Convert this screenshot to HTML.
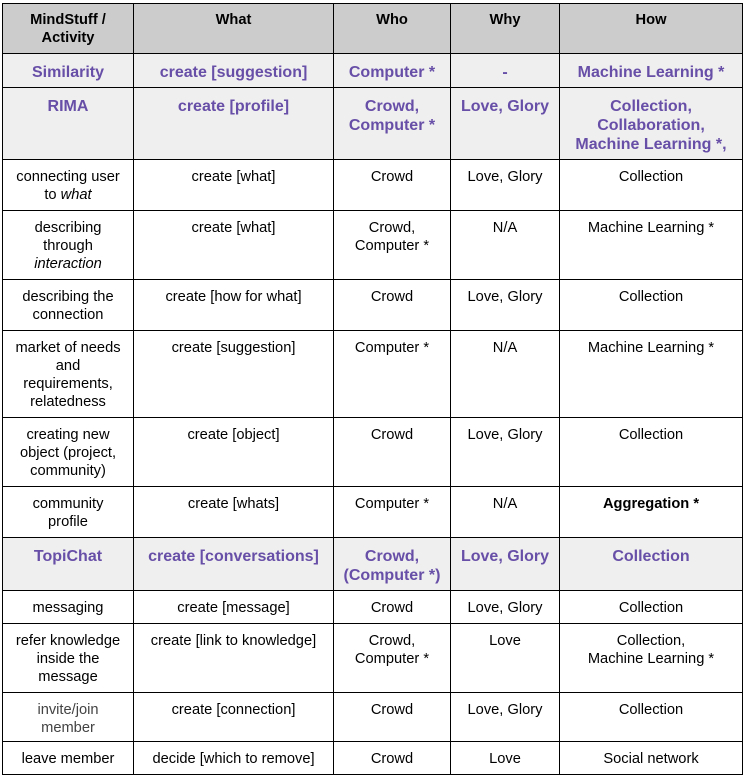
<!DOCTYPE html>
<html>
<head>
<meta charset="utf-8">
<style>
html,body{margin:0;padding:0;background:#fff;}
body{width:748px;height:779px;position:relative;overflow:hidden;font-family:"Liberation Sans",Arial,Helvetica,sans-serif;}
.bg{position:absolute;}
.h{position:absolute;height:1px;background:#000;left:2px;width:741px;}
.v{position:absolute;width:1px;background:#000;top:3px;height:772px;}
.c{position:absolute;text-align:center;white-space:nowrap;font-size:14.67px;line-height:18px;color:#000;}
.hd{font-weight:bold;}
.p{font-weight:bold;font-size:16px;line-height:19px;color:#674ea7;}
.g{color:#434343;}
</style>
</head>
<body>
<!-- backgrounds -->
<div class="bg" style="left:2px;top:3px;width:741px;height:50px;background:#cccccc;"></div>
<div class="bg" style="left:2px;top:53px;width:741px;height:106px;background:#efefef;"></div>
<div class="bg" style="left:2px;top:537px;width:741px;height:53px;background:#efefef;"></div>

<!-- horizontal lines -->
<div class="h" style="top:3px"></div>
<div class="h" style="top:53px"></div>
<div class="h" style="top:87px"></div>
<div class="h" style="top:159px"></div>
<div class="h" style="top:210px"></div>
<div class="h" style="top:279px"></div>
<div class="h" style="top:330px"></div>
<div class="h" style="top:417px"></div>
<div class="h" style="top:486px"></div>
<div class="h" style="top:537px"></div>
<div class="h" style="top:590px"></div>
<div class="h" style="top:623px"></div>
<div class="h" style="top:692px"></div>
<div class="h" style="top:741px"></div>
<div class="h" style="top:774px"></div>

<!-- vertical lines -->
<div class="v" style="left:2px"></div>
<div class="v" style="left:133px"></div>
<div class="v" style="left:333px"></div>
<div class="v" style="left:450px"></div>
<div class="v" style="left:559px"></div>
<div class="v" style="left:742px"></div>

<!-- Header row: top 3 -->
<div class="c hd" style="left:3px;width:130px;top:11px">MindStuff /<br>Activity</div>
<div class="c hd" style="left:134px;width:199px;top:11px">What</div>
<div class="c hd" style="left:334px;width:116px;top:11px">Who</div>
<div class="c hd" style="left:451px;width:108px;top:11px">Why</div>
<div class="c hd" style="left:560px;width:182px;top:11px">How</div>

<!-- Similarity: top 53 -->
<div class="c p" style="left:3px;width:130px;top:63px">Similarity</div>
<div class="c p" style="left:134px;width:199px;top:63px">create [suggestion]</div>
<div class="c p" style="left:334px;width:116px;top:63px">Computer *</div>
<div class="c p" style="left:451px;width:108px;top:63px">-</div>
<div class="c p" style="left:560px;width:182px;top:63px">Machine Learning *</div>

<!-- RIMA: top 87 -->
<div class="c p" style="left:3px;width:130px;top:97px">RIMA</div>
<div class="c p" style="left:134px;width:199px;top:97px">create [profile]</div>
<div class="c p" style="left:334px;width:116px;top:97px">Crowd,<br>Computer *</div>
<div class="c p" style="left:451px;width:108px;top:97px">Love, Glory</div>
<div class="c p" style="left:560px;width:182px;top:97px">Collection,<br>Collaboration,<br>Machine Learning *,</div>

<!-- row top 159 -->
<div class="c" style="left:3px;width:130px;top:168px">connecting user<br>to <i>what</i></div>
<div class="c" style="left:134px;width:199px;top:168px">create [what]</div>
<div class="c" style="left:334px;width:116px;top:168px">Crowd</div>
<div class="c" style="left:451px;width:108px;top:168px">Love, Glory</div>
<div class="c" style="left:560px;width:182px;top:168px">Collection</div>

<!-- row top 210 -->
<div class="c" style="left:3px;width:130px;top:219px">describing<br>through<br><i>interaction</i></div>
<div class="c" style="left:134px;width:199px;top:219px">create [what]</div>
<div class="c" style="left:334px;width:116px;top:219px">Crowd,<br>Computer *</div>
<div class="c" style="left:451px;width:108px;top:219px">N/A</div>
<div class="c" style="left:560px;width:182px;top:219px">Machine Learning *</div>

<!-- row top 279 -->
<div class="c" style="left:3px;width:130px;top:288px">describing the<br>connection</div>
<div class="c" style="left:134px;width:199px;top:288px">create [how for what]</div>
<div class="c" style="left:334px;width:116px;top:288px">Crowd</div>
<div class="c" style="left:451px;width:108px;top:288px">Love, Glory</div>
<div class="c" style="left:560px;width:182px;top:288px">Collection</div>

<!-- row top 330 -->
<div class="c" style="left:3px;width:130px;top:339px">market of needs<br>and<br>requirements,<br>relatedness</div>
<div class="c" style="left:134px;width:199px;top:339px">create [suggestion]</div>
<div class="c" style="left:334px;width:116px;top:339px">Computer *</div>
<div class="c" style="left:451px;width:108px;top:339px">N/A</div>
<div class="c" style="left:560px;width:182px;top:339px">Machine Learning *</div>

<!-- row top 417 -->
<div class="c" style="left:3px;width:130px;top:426px">creating new<br>object (project,<br>community)</div>
<div class="c" style="left:134px;width:199px;top:426px">create [object]</div>
<div class="c" style="left:334px;width:116px;top:426px">Crowd</div>
<div class="c" style="left:451px;width:108px;top:426px">Love, Glory</div>
<div class="c" style="left:560px;width:182px;top:426px">Collection</div>

<!-- row top 486 -->
<div class="c" style="left:3px;width:130px;top:495px">community<br>profile</div>
<div class="c" style="left:134px;width:199px;top:495px">create [whats]</div>
<div class="c" style="left:334px;width:116px;top:495px">Computer *</div>
<div class="c" style="left:451px;width:108px;top:495px">N/A</div>
<div class="c" style="left:560px;width:182px;top:495px"><b>Aggregation *</b></div>

<!-- TopiChat top 537 -->
<div class="c p" style="left:3px;width:130px;top:547px">TopiChat</div>
<div class="c p" style="left:134px;width:199px;top:547px">create [conversations]</div>
<div class="c p" style="left:334px;width:116px;top:547px">Crowd,<br>(Computer *)</div>
<div class="c p" style="left:451px;width:108px;top:547px">Love, Glory</div>
<div class="c p" style="left:560px;width:182px;top:547px">Collection</div>

<!-- row top 590 -->
<div class="c" style="left:3px;width:130px;top:599px">messaging</div>
<div class="c" style="left:134px;width:199px;top:599px">create [message]</div>
<div class="c" style="left:334px;width:116px;top:599px">Crowd</div>
<div class="c" style="left:451px;width:108px;top:599px">Love, Glory</div>
<div class="c" style="left:560px;width:182px;top:599px">Collection</div>

<!-- row top 623 -->
<div class="c" style="left:3px;width:130px;top:632px">refer knowledge<br>inside the<br>message</div>
<div class="c" style="left:134px;width:199px;top:632px">create [link to knowledge]</div>
<div class="c" style="left:334px;width:116px;top:632px">Crowd,<br>Computer *</div>
<div class="c" style="left:451px;width:108px;top:632px">Love</div>
<div class="c" style="left:560px;width:182px;top:632px">Collection,<br>Machine Learning *</div>

<!-- row top 692 -->
<div class="c g" style="left:3px;width:130px;top:701px">invite/join<br>member</div>
<div class="c" style="left:134px;width:199px;top:701px">create [connection]</div>
<div class="c" style="left:334px;width:116px;top:701px">Crowd</div>
<div class="c" style="left:451px;width:108px;top:701px">Love, Glory</div>
<div class="c" style="left:560px;width:182px;top:701px">Collection</div>

<!-- row top 741 -->
<div class="c" style="left:3px;width:130px;top:750px">leave member</div>
<div class="c" style="left:134px;width:199px;top:750px">decide [which to remove]</div>
<div class="c" style="left:334px;width:116px;top:750px">Crowd</div>
<div class="c" style="left:451px;width:108px;top:750px">Love</div>
<div class="c" style="left:560px;width:182px;top:750px">Social network</div>
</body>
</html>
